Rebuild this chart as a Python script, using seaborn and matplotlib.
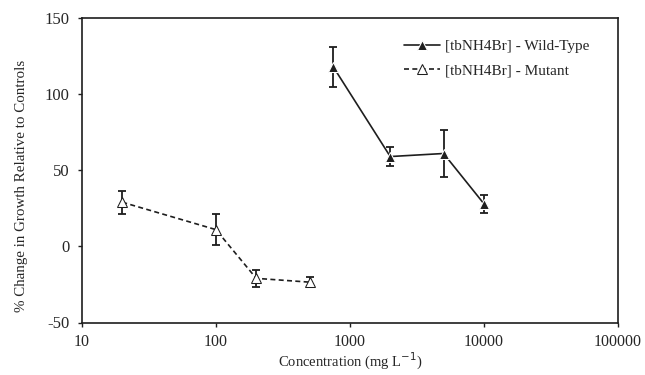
import numpy as np
import pandas as pd
import matplotlib
matplotlib.use("Agg")
import matplotlib.pyplot as plt
import seaborn as sns

# values
wt_conc = [750, 2000, 5000, 10000]
wt_change = [118, 59, 61, 28]
wt_err = [13, 6.5, 15.5, 6]

mut_conc = [20, 100, 200, 500]
mut_change = [29, 11, -21, -23.5]
mut_err = [7.5, 10, 5.5, 3.5]

WT_LABEL = "[tbNH4Br] - Wild-Type"
MUT_LABEL = "[tbNH4Br] - Mutant"
INK = "#1e1e1e"

sns.set_style("white")
plt.rcParams["font.family"] = ["Liberation Serif", "DejaVu Serif"]
plt.rcParams["axes.unicode_minus"] = False

df = pd.concat([
    pd.DataFrame({"conc": wt_conc, "change": wt_change, "err": wt_err, "series": WT_LABEL}),
    pd.DataFrame({"conc": mut_conc, "change": mut_change, "err": mut_err, "series": MUT_LABEL}),
], ignore_index=True)

fig, ax = plt.subplots(figsize=(6.45, 3.75), dpi=100)

# error bars first so markers sit on top
for name, grp in df.groupby("series"):
    ax.errorbar(grp["conc"], grp["change"], yerr=grp["err"], fmt="none",
                ecolor=INK, elinewidth=1.3, capsize=3, capthick=1.3, zorder=2)

sns.lineplot(data=df, x="conc", y="change", hue="series", style="series",
             hue_order=[WT_LABEL, MUT_LABEL], style_order=[WT_LABEL, MUT_LABEL],
             palette=[INK, INK], dashes=[(None, None), (3, 2)],
             markers=["^", "^"], markersize=7, linewidth=1.2, sort=False,
             estimator=None, ax=ax, zorder=3)

# open triangles for the mutant series
for line in ax.lines:
    xd = line.get_xdata()
    if len(xd) and xd[0] == mut_conc[0]:
        line.set_markerfacecolor("white")
        line.set_markeredgecolor(INK)

ax.set_xscale("log")
ax.set_xlim(10, 100000)
ax.set_ylim(-50, 150)
ax.set_xticks([10, 100, 1000, 10000, 100000])
ax.set_xticklabels(["10", "100", "1000", "10000", "100000"])
ax.minorticks_off()
ax.set_yticks([-50, 0, 50, 100, 150])

for s in ax.spines.values():
    s.set_visible(True)
    s.set_color(INK)
    s.set_linewidth(1.2)
ax.tick_params(axis="both", direction="out", length=3, width=1, color=INK,
               labelsize=12, bottom=True, left=True, pad=6)
ax.tick_params(axis="x", labelsize=11.5, pad=5)

ax.set_xlabel("Concentration (mg L$^{-1}$)", fontsize=10.5, labelpad=1)
ax.set_ylabel("% Change in Growth Relative to Controls", fontsize=10.8)
ax.yaxis.set_label_coords(-0.1, 0.45)

handles, labels = ax.get_legend_handles_labels()
for h, l in zip(handles, labels):
    if l == MUT_LABEL:
        h.set_markerfacecolor("white")
        h.set_markeredgecolor(INK)
ax.legend(handles, labels, loc="upper left", frameon=False, fontsize=11,
          handlelength=2.4, handletextpad=0.3, labelspacing=0.7,
          borderaxespad=0, borderpad=0, bbox_to_anchor=(0.6, 0.93))

fig.subplots_adjust(left=0.127, right=0.958, top=0.952, bottom=0.14)
fig.savefig("out.png", dpi=100)
